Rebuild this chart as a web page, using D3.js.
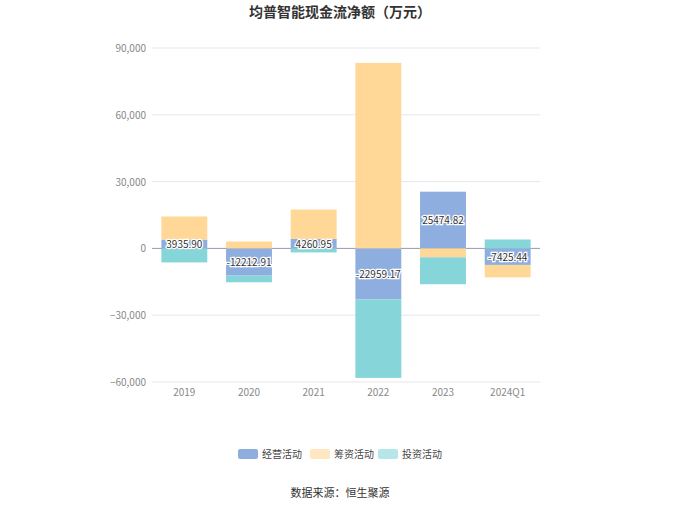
<!DOCTYPE html>
<html><head><meta charset="utf-8">
<script src="https://cdn.jsdelivr.net/npm/d3@7"></script>
<style>body{margin:0;background:#fff;font-family:"Noto Sans CJK SC","Noto Sans",sans-serif;}</style>
</head><body><svg id="chart" width="680" height="509"></svg>
<script>
const categories = ["2019","2020","2021","2022","2023","2024Q1"];
const seriesNames = ["经营活动","筹资活动","投资活动"];
const operating = [3935.90, -12212.91, 4260.95, -22959.17, 25474.82, -7425.44];
const financing = [10400, 3100, 13200, 83300, -4000, -5600];
const investing = [-6300, -3000, -1800, -35200, -12100, 4000];
const yTicks = [-60000, -30000, 0, 30000, 60000, 90000];
const colors = ["#8eaee0", "#ffd898", "#86d5d9"];

const svg = d3.select("#chart");
const x = d3.scaleBand().domain(categories).range([152, 540]).paddingInner(0.29).paddingOuter(0.145);
const y = d3.scaleLinear().domain([-60000, 90000]).range([382, 48]);

svg.append("text").attr("x", 340).attr("y", 17).attr("text-anchor", "middle")
  .attr("font-size", 14).attr("font-weight", "bold").attr("fill", "#333").text("均普智能现金流净额（万元）");

svg.append("g").selectAll("line").data(yTicks).join("line")
  .attr("x1", 152).attr("x2", 540).attr("y1", d => y(d)).attr("y2", d => y(d))
  .attr("stroke", d => d === 0 ? "#99a" : "#e6e6ef");
svg.append("g").selectAll("text").data(yTicks).join("text")
  .attr("x", 146).attr("y", d => y(d) + 4).attr("text-anchor", "end")
  .attr("font-size", 10).attr("fill", "#888").text(d => d3.format(",")(d));
svg.append("g").selectAll("text").data(categories).join("text")
  .attr("x", d => x(d) + x.bandwidth() / 2).attr("y", 396).attr("text-anchor", "middle")
  .attr("font-size", 10).attr("fill", "#888").text(d => d);

const series = [operating, financing, investing];
categories.forEach((c, i) => {
  let pos = 0, neg = 0;
  series.forEach((s, k) => {
    const v = s[i];
    let y0, y1;
    if (v >= 0) { y0 = pos; y1 = pos + v; pos = y1; } else { y0 = neg; y1 = neg + v; neg = y1; }
    svg.append("rect").attr("x", x(c)).attr("width", x.bandwidth())
      .attr("y", y(Math.max(y0, y1))).attr("height", Math.abs(y(y0) - y(y1))).attr("fill", colors[k]);
  });
});
svg.append("g").selectAll("text").data(categories).join("text")
  .attr("x", d => x(d) + x.bandwidth() / 2).attr("y", (d, i) => y(operating[i] / 2) + 4)
  .attr("text-anchor", "middle").attr("font-size", 10).attr("fill", "#333")
  .attr("stroke", "#fff").attr("stroke-width", 2.5).attr("paint-order", "stroke")
  .text((d, i) => operating[i].toFixed(2));

const lg = svg.append("g");
const lx = [238, 310, 378];
seriesNames.forEach((n, k) => {
  lg.append("rect").attr("x", lx[k]).attr("y", 449).attr("width", 20).attr("height", 10).attr("rx", 2)
    .attr("fill", colors[k]).attr("opacity", k === 0 ? 1 : 0.6);
  lg.append("text").attr("x", lx[k] + 24).attr("y", 458).attr("font-size", 10).attr("fill", "#444").text(n);
});
svg.append("text").attr("x", 340).attr("y", 497).attr("text-anchor", "middle")
  .attr("font-size", 11).attr("fill", "#333").text("数据来源：恒生聚源");
</script></body></html>
